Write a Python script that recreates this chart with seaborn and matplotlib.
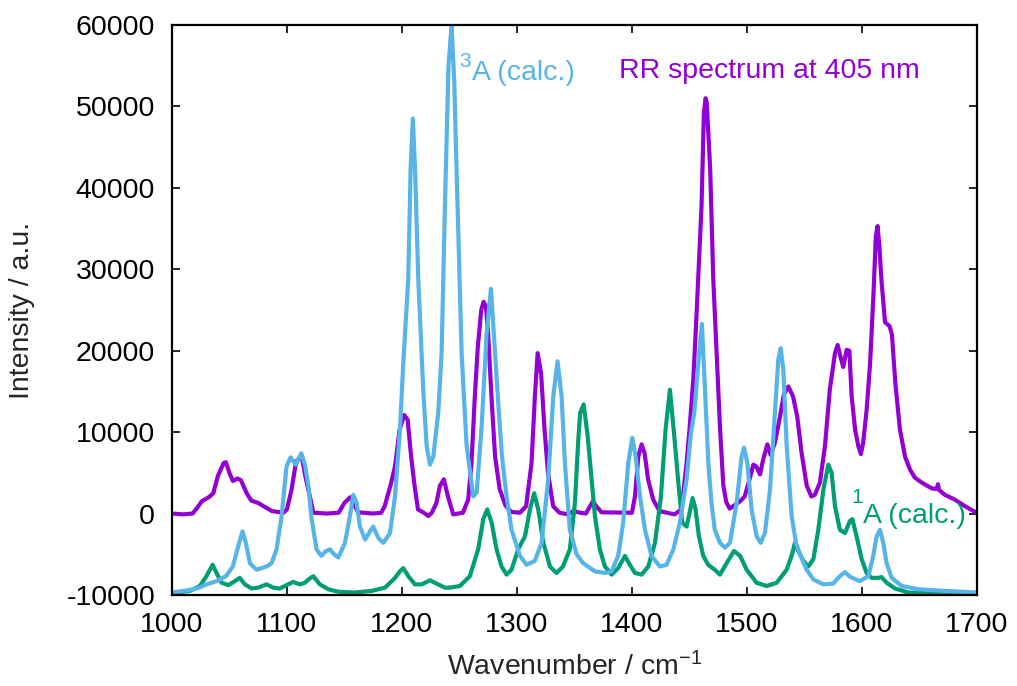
import matplotlib
matplotlib.use('Agg')
import matplotlib.pyplot as plt
import pandas as pd
import seaborn as sns

# RR spectrum at 405 nm (measured)
rr_wn = [1000, 1010, 1018, 1022, 1026, 1032, 1036, 1040, 1045, 1047, 1050, 1053, 1057, 1060,
         1065, 1069, 1075, 1081, 1087, 1097, 1100, 1104, 1108, 1113, 1116, 1120, 1123, 1135,
         1145, 1150, 1155, 1158, 1162, 1175, 1182, 1185, 1190, 1194, 1198, 1202, 1205, 1208,
         1211, 1214, 1219, 1223, 1226, 1230, 1233, 1236.5, 1240, 1244.6, 1253, 1257.6, 1260.5,
         1263.4, 1266, 1269, 1271, 1273, 1275, 1278, 1281, 1285, 1290, 1295, 1302.6, 1308,
         1312.7, 1315.6, 1318, 1321, 1324, 1327, 1331.5, 1337, 1344.6, 1349, 1355, 1360,
         1363.5, 1366, 1369, 1373.6, 1400, 1402.6, 1405.5, 1408.4, 1411, 1414, 1418.5, 1424,
         1437, 1443, 1447.5, 1450, 1453.3, 1456, 1460.5, 1462.5, 1464, 1465, 1468, 1470.7,
         1473.6, 1476.5, 1479.4, 1482, 1485, 1488, 1494, 1498, 1502.6, 1505.5, 1508, 1511.3,
         1514, 1517.7, 1520.5, 1524.3, 1528.7, 1532, 1536, 1540, 1543.7, 1547.5, 1552, 1556,
         1559, 1563.4, 1567.8, 1572, 1576.5, 1578.8, 1581.4, 1583.7, 1586.6, 1589, 1591, 1594,
         1596.8, 1599, 1601, 1604, 1607, 1610, 1612, 1613.5, 1615, 1617, 1620, 1624, 1626,
         1629, 1633, 1637.4, 1641.7, 1646, 1652, 1660.5, 1665, 1666, 1667, 1672, 1680.8,
         1689.5, 1697, 1700]
rr_int = [0, -100, 0, 700, 1500, 2000, 2500, 4600, 6200, 6300, 5000, 4000, 4300, 4100,
          2500, 1600, 1300, 800, 300, 100, 500, 2900, 6400, 7000, 4600, 2100, 100, 0,
          100, 1300, 2000, 1200, 150, 0, 100, 900, 3400, 5800, 10300, 12100, 11500, 7000,
          3400, 500, 100, -300, 100, 1300, 3400, 4200, 2100, -100, 100, 1700, 6200,
          14400, 20500, 25000, 26000, 25500, 22000, 14000, 7000, 3000, 1000, 200, 100, 900,
          6200, 14400, 19700, 17200, 10300, 5000, 900, 100, -100, 300, 100, 0,
          900, 1500, 900, 150, 100, 2100, 7000, 8500, 7400, 4200, 1700, 300,
          -100, 500, 6200, 10300, 16400, 24000, 37800, 49100, 51000, 50500, 42300, 28800,
          19700, 10700, 3500, 1400, 600, 900, 1500, 2100, 4400, 6000, 5800, 4800,
          6600, 8500, 7200, 8700, 11900, 14600, 15600, 14400, 11900, 7400, 3400, 2100,
          2300, 3800, 8300, 15200, 19700, 20700, 19200, 18000, 20100, 20000, 14400, 10300,
          8300, 7300, 8700, 12700, 18400, 27000, 34000, 35300, 33000, 28500, 23500, 23000, 22000,
          16000, 10300, 7000, 5400, 4400, 3800, 3100, 3000, 3600, 2900, 2300, 1700,
          900, 300, 100]

# 3A (calc.)
t_wn = [1000, 1015, 1024, 1030, 1039, 1047, 1053, 1057.7, 1061.4, 1064.3, 1067.8, 1073.6,
        1082.3, 1086.7, 1091, 1095.4, 1099.7, 1103.2, 1107.8, 1112.5, 1115.7, 1118.6, 1121.5,
        1125.8, 1130, 1134, 1137.4, 1141, 1144.7, 1150.5, 1154.8, 1157.7, 1160.6, 1163.5,
        1168, 1172.2, 1175, 1179.5, 1183.8, 1189.6, 1194, 1198.3, 1201.2, 1205.5, 1207.5,
        1209.5, 1211.5, 1214.2, 1218.6, 1221.5, 1224.4, 1227.3, 1231.6, 1234.5, 1237.4,
        1240.5, 1243.2, 1245.5, 1247.5, 1251.9, 1256.2, 1262, 1265, 1269.3, 1273.6, 1277.4,
        1281, 1284, 1287, 1291, 1295.3, 1302.6, 1308.4, 1315.6, 1321.4, 1327.2, 1331.6,
        1335.3, 1338.8, 1341.7, 1346, 1351.8, 1357.6, 1367.8, 1376.5, 1382.3, 1388, 1392.4,
        1396.8, 1400.3, 1403.2, 1407, 1411.3, 1417, 1424.3, 1430, 1436, 1441.7, 1447.5,
        1451.3, 1454.2, 1457.7, 1460.8, 1463.5, 1466.4, 1469, 1472, 1476.5, 1480.8, 1485.2,
        1491, 1495.3, 1497.4, 1500.3, 1504, 1508.4, 1511.9, 1515.6, 1520, 1524.3, 1527.2,
        1529.3, 1531.6, 1534.5, 1538.8, 1542.6, 1546, 1551.9, 1557.7, 1566.4, 1575, 1580,
        1585, 1590, 1598, 1605.5, 1609.8, 1612.7, 1615.6, 1618.5, 1621.4, 1625.8, 1634.5,
        1649, 1672, 1700]
t_int = [-9700, -9400, -9100, -8700, -8300, -7700, -6500, -4000, -2200, -3600, -6100, -6900,
         -6500, -6100, -4400, -300, 5800, 6900, 6000, 7400, 6000, 3500, -700,
         -4400, -5200, -4600, -4400, -5000, -5400, -3600, -300, 2300, 1300, -1600,
         -3200, -2200, -1600, -3000, -3600, -2400, 2100, 10300, 18500, 28800, 42000,
         48500, 42000, 28800, 15000, 8300, 6000, 7000, 12400, 19700, 37800,
         55000, 60000, 53000, 42300, 19700, 8400, 2100, 2600, 10700, 22000, 27600,
         19700, 13000, 7000, 2100, -2000, -5200, -6300, -5800, -3600, 4200, 14400,
         18700, 14400, 6200, -2000, -5000, -6100, -7100, -7300, -7100, -5200, -1100,
         6200, 9300, 7000, 2100, -2000, -5200, -6500, -6300, -4400, -1100, 4200,
         9900, 12400, 18500, 23300, 15200, 6200, 1500, -2000, -3600, -4200, -3600,
         1300, 7000, 8100, 6200, 500, -2800, -3600, -2400, 2900, 12400, 18900,
         20300, 17700, 8300, -300, -3600, -5000, -6900, -8100, -8700, -8600, -7800,
         -7200, -7800, -8300, -7700, -5200, -2800, -2000, -3600, -6100, -7900, -8900,
         -9300, -9500, -9700]

# 1A (calc.)
s_wn = [1000, 1015.7, 1024.3, 1030, 1035.4, 1038.8, 1043.2, 1049, 1054.8, 1059, 1063.5,
        1069.3, 1075, 1082.3, 1088, 1093.9, 1101, 1105.5, 1111.3, 1115.7, 1118.6, 1123,
        1128.7, 1136, 1144.7, 1159, 1173.7, 1185.3, 1194, 1198.3, 1201.2, 1205.6, 1211.3,
        1217.2, 1224.4, 1230, 1237.4, 1241.7, 1250.4, 1259, 1266.3, 1270.7, 1274.2, 1278,
        1282.3, 1286.6, 1291, 1295.3, 1301, 1307, 1311.3, 1315, 1318.5, 1323, 1328.7,
        1334.4, 1340, 1346, 1350.4, 1353.3, 1355, 1358, 1361.5, 1364.9, 1367.8, 1372.1,
        1376.5, 1382.3, 1388, 1393.9, 1397.4, 1402.6, 1408.4, 1414.2, 1420, 1425.2, 1429.2,
        1433, 1436.8, 1440.3, 1443.7, 1447.5, 1450.4, 1452.7, 1455.3, 1458.2, 1462, 1466.3,
        1472, 1476.5, 1482.3, 1488.7, 1494, 1499.7, 1508.4, 1517.1, 1525.8, 1534.5, 1538.8,
        1541.7, 1544.6, 1549, 1553.3, 1557.7, 1562, 1566.4, 1570.7, 1573.6, 1576.5, 1580.8,
        1585.2, 1589.5, 1591.6, 1595.3, 1599.7, 1604, 1608.4, 1614.2, 1617, 1621.4, 1628.7,
        1640.3, 1657.7, 1700]
s_int = [-9800, -9500, -8900, -7700, -6300, -7300, -8500, -8800, -8300, -7900, -8700,
         -9200, -9100, -8700, -9100, -9200, -8700, -8400, -8700, -8500, -8100, -7700,
         -8700, -9300, -9600, -9700, -9500, -9100, -7900, -7100, -6700, -7700, -8700,
         -8700, -8200, -8600, -9100, -9100, -8900, -7700, -4400, -700, 500, -1100,
         -4400, -6500, -7500, -6900, -4400, -2800, 500, 2500, 500, -3600, -6500,
         -7300, -6500, -4400, 1300, 9000, 12400, 13400, 9500, 4200, -300, -4400,
         -6500, -7500, -6700, -5200, -6100, -7300, -7500, -6500, -3600, 2100, 10300,
         15200, 9500, 3800, -1100, -1600, 300, 1900, 500, -2800, -5200, -6300,
         -6900, -7500, -6100, -4600, -5200, -6900, -8500, -8900, -8500, -6900, -5200,
         -3600, -4600, -5800, -6500, -5600, -2000, 2900, 6000, 5000, 900, -2000,
         -2400, -900, -700, -2800, -5600, -7300, -7900, -7900, -7800, -8500, -9200,
         -9700, -9800, -9900]

x_ticks = list(range(1000, 1701, 100))
y_ticks = list(range(-10000, 60001, 10000))

purple = '#9400d3'
skyblue = '#56b4e9'
green = '#009e73'

sns.set_style('ticks')
plt.rcParams['font.family'] = ['Liberation Sans', 'DejaVu Sans']
plt.rcParams['mathtext.fontset'] = 'custom'
plt.rcParams['mathtext.rm'] = 'Liberation Sans'
plt.rcParams['mathtext.it'] = 'Liberation Sans'
plt.rcParams['axes.unicode_minus'] = False

rr = pd.DataFrame({'wn': rr_wn, 'I': rr_int})
trip = pd.DataFrame({'wn': t_wn, 'I': t_int})
sing = pd.DataFrame({'wn': s_wn, 'I': s_int})

fig = plt.figure(figsize=(10.17, 6.86), dpi=100)
ax = fig.add_axes([0.169, 0.1327, 0.7917, 0.8309])

line_kw = dict(x='wn', y='I', lw=3.0, sort=False, estimator=None, ax=ax,
               solid_joinstyle='round', solid_capstyle='round')
sns.lineplot(data=rr, color=purple, **line_kw)
sns.lineplot(data=sing, color=green, **line_kw)
sns.lineplot(data=trip, color=skyblue, **line_kw)

fs = 20.5
ax.set_xlim(1000, 1700)
ax.set_ylim(-10000, 60000)
ax.set_xticks(x_ticks)
ax.set_yticks(y_ticks)
ax.tick_params(direction='in', length=6, width=1.2, top=True, right=True,
               labelsize=fs, colors='black')
ax.tick_params(axis='x', pad=12)
ax.tick_params(axis='y', pad=12)
for sp in ax.spines.values():
    sp.set_linewidth(1.6)
    sp.set_color('black')

ax.set_xlabel('Wavenumber / cm$^{-1}$', fontsize=fs)
ax.set_ylabel('Intensity / a.u.', fontsize=fs)
ax.xaxis.set_label_coords(0.5, -0.10)
ax.yaxis.set_label_coords(-0.170, 0.5)

# curve labels, superscripts drawn a bit larger like gnuplot does
ax.text(1250, 54800, '3', color=skyblue, fontsize=15, va='baseline', ha='left')
ax.text(1260.5, 53300, 'A (calc.)', color=skyblue, fontsize=fs, va='baseline', ha='left')
ax.text(1389, 53500, 'RR spectrum at 405 nm', color=purple, fontsize=fs, va='baseline', ha='left')
ax.text(1591, 1300, '1', color=green, fontsize=15, va='baseline', ha='left')
ax.text(1600.5, -1150, 'A (calc.)', color=green, fontsize=fs, va='baseline', ha='left')

fig.savefig('out.png', dpi=100)
